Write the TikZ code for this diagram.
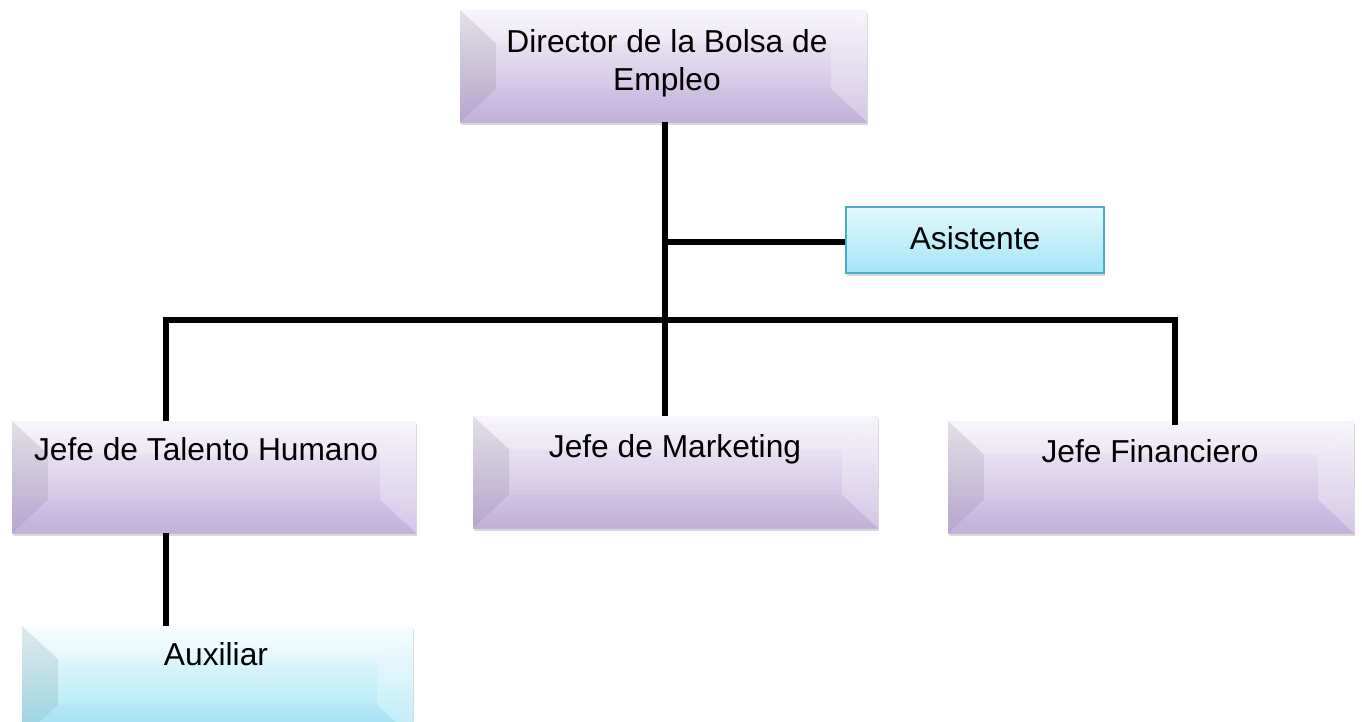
\documentclass[tikz,border=0pt]{standalone}
\usepackage{fontspec}
\setmainfont{Liberation Sans}
\usetikzlibrary{shadows}
\definecolor{pTop}{HTML}{F6F3FA}
\definecolor{pBot}{HTML}{C6B4DF}
\definecolor{cTop}{HTML}{F4FDFF}
\definecolor{cBot}{HTML}{A2E4F6}
\definecolor{aTop}{HTML}{E3F8FD}
\definecolor{aBot}{HTML}{A5E5F6}
\definecolor{aEdge}{HTML}{4BACC6}
\tikzset{
  conn/.style={line width=4.2pt, black},
  lbl/.style={font=\fontsize{23.8pt}{27.8pt}\selectfont, inner sep=0pt, anchor=base, align=center},
  bevel/.style={
    path picture={
      \coordinate (SW) at (path picture bounding box.south west);
      \coordinate (NE) at (path picture bounding box.north east);
      \coordinate (NW) at (path picture bounding box.north west);
      \coordinate (SE) at (path picture bounding box.south east);
      \coordinate (iSW) at ([shift={(27pt,25pt)}]SW);
      \coordinate (iNW) at ([shift={(27pt,-25pt)}]NW);
      \coordinate (iNE) at ([shift={(-27pt,-25pt)}]NE);
      \coordinate (iSE) at ([shift={(-27pt,25pt)}]SE);
      \fill[white, opacity=0.22] (NW) -- (NE) -- (iNE) -- (iNW) -- cycle;
      \fill[black, opacity=0.02] (SW) -- (SE) -- (iSE) -- (iSW) -- cycle;
      \fill[black, opacity=0.08] (SW) -- (NW) -- (iNW) -- (iSW) -- cycle;
      \fill[white, opacity=0.25] (SE) -- (NE) -- (iNE) -- (iSE) -- cycle;
    }},
  pbox/.style={rectangle, inner sep=0pt, top color=pTop, bottom color=pBot, bevel,
    drop shadow={shadow xshift=1pt, shadow yshift=-2.5pt, opacity=0.3}},
  cbox/.style={rectangle, inner sep=0pt, top color=cTop, bottom color=cBot, bevel,
    drop shadow={shadow xshift=1pt, shadow yshift=-2.5pt, opacity=0.3}},
  abox/.style={rectangle, inner sep=0pt, top color=aTop, bottom color=aBot, draw=aEdge, line width=1.2pt,
    drop shadow={shadow xshift=1pt, shadow yshift=-2.5pt, opacity=0.3}},
}
\begin{document}
\begin{tikzpicture}[x=0.75pt, y=-0.75pt]
\useasboundingbox (0,0) rectangle (1362,721);
% boxes
\node[pbox, minimum width={407*0.75pt}, minimum height={112*0.75pt}] (dir) at (663.5,66) {};
\node[abox, minimum width={258*0.75pt}, minimum height={66*0.75pt}] (asis) at (975,240) {};
\node[pbox, minimum width={404*0.75pt}, minimum height={112*0.75pt}] (th) at (214,477) {};
\node[pbox, minimum width={405*0.75pt}, minimum height={112*0.75pt}] (mk) at (675.5,472) {};
\node[pbox, minimum width={406*0.75pt}, minimum height={112*0.75pt}] (fin) at (1151,477) {};
\node[cbox, minimum width={391*0.75pt}, minimum height={112*0.75pt}] (aux) at (217.5,682) {};
% texts
\node[lbl] (dirT) at (667,90) {Director de la Bolsa de\\Empleo};
\node[lbl] (asT) at (975,249) {Asistente};
\node[lbl] (thT) at (206,460) {Jefe de Talento Humano};
\node[lbl] (mkT) at (675,457) {Jefe de Marketing};
\node[lbl] (finT) at (1150,462) {Jefe Financiero};
\node[lbl] (auxT) at (216,665) {Auxiliar};
% junctions
\coordinate (ja) at (665,242);
\coordinate (jc) at (665,320);
\coordinate (jl) at (166,320);
\coordinate (jr) at (1175,320);
% connectors
\draw[conn] (dir.south -| ja) -- (ja |- mk.north);
\draw[conn] (ja) -- (asis.west |- ja);
\draw[conn, line cap=rect] (jl) -- (jr);
\draw[conn] (jl) -- (jl |- th.north);
\draw[conn] (jr) -- ([yshift=-3pt]jr |- fin.north);
\draw[conn] (jl |- th.south) -- (jl |- aux.north);
\end{tikzpicture}
\end{document}
